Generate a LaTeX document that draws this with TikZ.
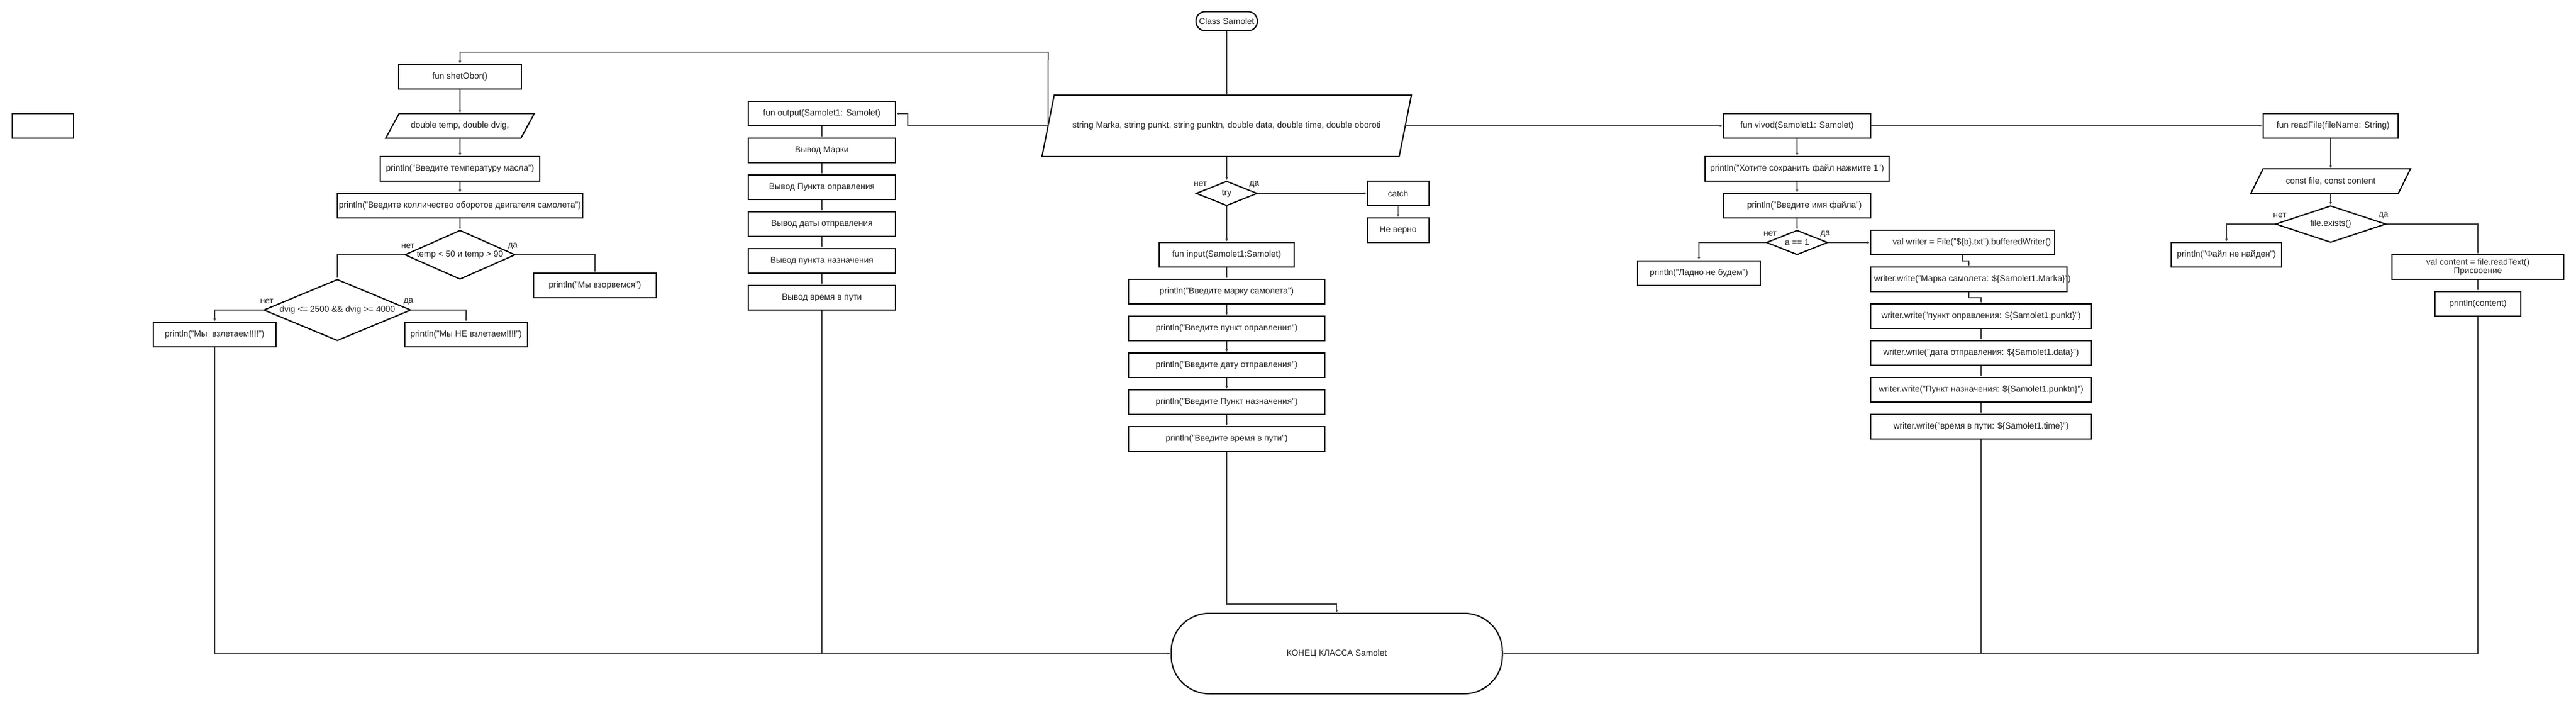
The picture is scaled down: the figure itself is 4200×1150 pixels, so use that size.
\documentclass[tikz,border=0pt]{standalone}
\usepackage{fontspec}
\setmainfont{Liberation Sans}
\usetikzlibrary{shapes.geometric,arrows.meta,calc}
\definecolor{cline}{HTML}{404040}
\definecolor{ctext}{HTML}{222222}
\newcommand\tx[1]{\makebox[0pt][c]{#1}}
\begin{document}
\begin{tikzpicture}[x=1pt,y=-1pt,
  base/.style={font=\fontsize{14}{14.5}\selectfont, text=ctext, inner sep=0pt, align=center},
  blk/.style={base, draw=black, line width=2pt, rectangle, minimum height=40pt},
  dia/.style={base, draw=black, line width=2pt, diamond},
  iobox/.style={base, rectangle, minimum height=40pt},
  iodraw/.style={draw=black, line width=2pt, line join=miter},
  lbl/.style={base},
  conn/.style={line width=1.5pt, draw=cline},
  arr/.style={conn, -{Latex[length=5pt,width=4pt]}}
]
\fill[white] (0,0) rectangle (4200,1150);

% ---------- left block ----------
\node[blk, minimum width=100pt] (empty) at (70,205) {};
\node[blk, minimum width=200pt] (shet) at (750,125) {\tx{fun shetObor()}};
\node[iobox, minimum width=220pt] (vars) at (750,205) {\tx{double temp, double dvig,}};
\draw[iodraw] ($(vars.north west)+(11,0)$) -- ($(vars.north east)+(11,0)$) -- ($(vars.south east)+(-11,0)$) -- ($(vars.south west)+(-11,0)$) -- cycle;
\node[blk, minimum width=260pt] (maslo) at (750,275) {\tx{println("Введите температуру масла")}};
\node[blk, minimum width=400pt] (obor) at (750,335) {\tx{println("Введите колличество оборотов двигателя самолета")}};
\node[dia, minimum width=180pt, minimum height=80pt] (d1) at (750,415) {\tx{temp < 50 и temp > 90}};
\node[blk, minimum width=200pt] (boom) at (970,465) {\tx{println("Мы взорвемся")}};
\node[dia, minimum width=240pt, minimum height=100pt] (d2) at (550,505) {\tx{dvig <= 2500 \&\& dvig >= 4000}};
\node[blk, minimum width=200pt] (up) at (350,545) {\tx{println("Мы\ \ взлетаем!!!!")}};
\node[blk, minimum width=200pt] (noup) at (760,545) {\tx{println("Мы НЕ взлетаем!!!!")}};
\node[lbl] (d1n) at (665,401) {нет};
\node[lbl] (d1y) at (836,401) {да};
\node[lbl] (d2n) at (435,491) {нет};
\node[lbl] (d2y) at (666,491) {да};

% ---------- output column ----------
\node[blk, minimum width=240pt] (o0) at (1340,185) {\tx{fun output(Samolet1: Samolet)}};
\node[blk, minimum width=240pt] (o1) at (1340,245) {\tx{Вывод Марки}};
\node[blk, minimum width=240pt] (o2) at (1340,305) {\tx{Вывод Пункта оправления}};
\node[blk, minimum width=240pt] (o3) at (1340,365) {\tx{Вывод даты отправления}};
\node[blk, minimum width=240pt] (o4) at (1340,425) {\tx{Вывод пункта назначения}};
\node[blk, minimum width=240pt] (o5) at (1340,485) {\tx{Вывод время в пути}};

% ---------- centre ----------
\node[blk, rounded corners=15pt, minimum width=100pt, minimum height=31pt] (cls) at (2000,34.5) {\tx{Class Samolet}};
\node[iobox, minimum width=582pt, minimum height=100pt] (par) at (2000,205) {\tx{string Marka, string punkt, string punktn, double data, double time, double oboroti}};
\draw[iodraw] ($(par.north west)+(10,0)$) -- ($(par.north east)+(10,0)$) -- ($(par.south east)+(-10,0)$) -- ($(par.south west)+(-10,0)$) -- cycle;
\node[dia, minimum width=100pt, minimum height=40pt] (try) at (2000,315) {\tx{try}};
\node[lbl] (tryn) at (1957,300) {нет};
\node[lbl] (tryy) at (2045,300) {да};
\node[blk, minimum width=100pt] (catch) at (2279.5,315) {\tx{catch}};
\node[blk, minimum width=100pt] (nev) at (2279.5,375) {\tx{Не верно}};
\node[blk, minimum width=220pt] (in0) at (2000,415) {\tx{fun input(Samolet1:Samolet)}};
\node[blk, minimum width=320pt] (in1) at (2000,475) {\tx{println("Введите марку самолета")}};
\node[blk, minimum width=320pt] (in2) at (2000,535) {\tx{println("Введите пункт оправления")}};
\node[blk, minimum width=320pt] (in3) at (2000,595) {\tx{println("Введите дату отправления")}};
\node[blk, minimum width=320pt] (in4) at (2000,655) {\tx{println("Введите Пункт назначения")}};
\node[blk, minimum width=320pt] (in5) at (2000,715) {\tx{println("Введите время в пути")}};
\node[blk, rounded corners=62pt, minimum width=540pt, minimum height=131pt] (end) at (2179.5,1064.5) {\tx{КОНЕЦ КЛАССА Samolet}};

% ---------- vivod ----------
\node[blk, minimum width=240pt] (vivod) at (2930,205) {\tx{fun vivod(Samolet1: Samolet)}};
\node[blk, minimum width=300pt] (want) at (2930,275) {\tx{println("Хотите сохранить файл нажмите 1")}};
\node[blk, minimum width=240pt] (fname) at (2930,335) {\tx{\hspace*{24pt}println("Введите имя файла")}};
\node[dia, minimum width=100pt, minimum height=40pt] (d3) at (2930,395) {\tx{a == 1}};
\node[lbl] (d3n) at (2886,381) {нет};
\node[lbl] (d3y) at (2976,381) {да};
\node[blk, minimum width=200pt] (ladno) at (2770,445) {\tx{println("Ладно не будем")}};
\node[blk, minimum width=300pt] (wr0) at (3200,395) {\tx{\hspace*{30pt}val writer = File("\$\{b\}.txt").bufferedWriter()}};
\node[blk, minimum width=320pt] (wr1) at (3210,455) {\tx{\hspace*{12pt}writer.write("Марка самолета: \$\{Samolet1.Marka\}")}};
\node[blk, minimum width=360pt] (wr2) at (3230,515) {\tx{writer.write("пункт оправления: \$\{Samolet1.punkt\}")}};
\node[blk, minimum width=360pt] (wr3) at (3230,575) {\tx{writer.write("дата отправления: \$\{Samolet1.data\}")}};
\node[blk, minimum width=360pt] (wr4) at (3230,635) {\tx{writer.write("Пункт назначения: \$\{Samolet1.punktn\}")}};
\node[blk, minimum width=360pt] (wr5) at (3230,695) {\tx{writer.write("время в пути: \$\{Samolet1.time\}")}};

% ---------- readFile ----------
\node[blk, minimum width=220pt] (rf) at (3800,205) {\tx{\hspace*{8pt}fun readFile(fileName: String)}};
\node[iobox, minimum width=240pt] (cf) at (3800,295) {\tx{const file, const content}};
\draw[iodraw] ($(cf.north west)+(10,0)$) -- ($(cf.north east)+(10,0)$) -- ($(cf.south east)+(-10,0)$) -- ($(cf.south west)+(-10,0)$) -- cycle;
\node[dia, minimum width=180pt, minimum height=60pt] (d4) at (3800,365) {\tx{file.exists()}};
\node[lbl] (d4n) at (3717,351) {нет};
\node[lbl] (d4y) at (3886,351) {да};
\node[blk, minimum width=180pt] (fnf) at (3630,415) {\tx{println("Файл не найден")}};
\node[blk, minimum width=280pt] (cont) at (4040,435) {val content = file.readText()\\Присвоение};
\node[blk, minimum width=140pt] (pc) at (4040,495) {\tx{println(content)}};

% ---------- connectors ----------
\coordinate (tl) at (1709,85);
\coordinate (ob) at (1480,205);
\coordinate (b1) at (350,1064.5);
\coordinate (b2) at (1340,1064.5);
\coordinate (b3) at (2000,984);
\coordinate (b5) at (3230,1064.5);
\coordinate (b6) at (4040,1064.5);

\draw[arr] (cls.south) -- (par.north);
\draw[arr] (par.west) -- (tl) -| (shet.north);
\draw[arr] (par.west) -- (ob) |- (o0.east);

\draw[arr] (shet) -- (vars);
\draw[arr] (vars) -- (maslo);
\draw[arr] (maslo) -- (obor);
\draw[arr] (obor) -- (d1);
\draw[arr] (d1.west) -| (d2.north);
\draw[arr] (d1.east) -| (boom.north);
\draw[arr] (d2.west) -| (up.north);
\draw[arr] (d2.east) -| (noup.north);
\draw[arr] (up.south) -- (b1) -- (end.west);

\draw[arr] (o0) -- (o1);
\draw[arr] (o1) -- (o2);
\draw[arr] (o2) -- (o3);
\draw[arr] (o3) -- (o4);
\draw[arr] (o4) -- (o5);
\draw[conn] (o5.south) -- (b2);

\draw[arr] (par.south) -- (try.north);
\draw[arr] (try.east) -- (catch.west);
\draw[arr] (catch) -- (nev);
\draw[arr] (try.south) -- (in0.north);
\draw[arr] (in0) -- (in1);
\draw[arr] (in1) -- (in2);
\draw[arr] (in2) -- (in3);
\draw[arr] (in3) -- (in4);
\draw[arr] (in4) -- (in5);
\draw[arr] (in5.south) -- (b3) -| (end.north);

\draw[arr] (par.east) -- (vivod.west);
\draw[arr] (vivod.east) -- (rf.west);
\draw[arr] (vivod) -- (want);
\draw[arr] (want) -- (fname);
\draw[arr] (fname) -- (d3);
\draw[arr] (d3.west) -| (ladno.north);
\draw[arr] (d3.east) -- (wr0.west);
\draw[arr] (wr0.south) -- ++(0,9) -| (wr1.north);
\draw[arr] (wr1.south) -- ++(0,9) -| (wr2.north);
\draw[arr] (wr2) -- (wr3);
\draw[arr] (wr3) -- (wr4);
\draw[arr] (wr4) -- (wr5);
\draw[arr] (wr5.south) -- (b5) -- (end.east);

\draw[arr] (rf) -- (cf);
\draw[arr] (cf) -- (d4);
\draw[arr] (d4.west) -| (fnf.north);
\draw[arr] (d4.east) -| (cont.north);
\draw[arr] (cont) -- (pc);
\draw[conn] (pc.south) -- (b6) -- (b5);
\end{tikzpicture}
\end{document}
